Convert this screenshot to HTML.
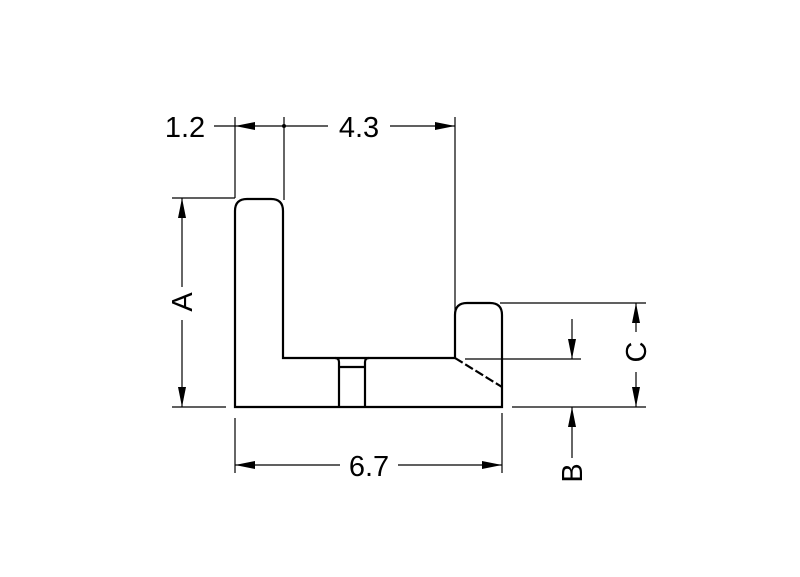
<!DOCTYPE html>
<html><head><style>body{margin:0;background:#fff}svg{display:block}text{font-family:"Liberation Sans",sans-serif;font-size:29px;fill:#000}</style></head>
<body>
<svg width="800" height="577" viewBox="0 0 800 577" xmlns="http://www.w3.org/2000/svg">
<defs>
<marker id="ar" viewBox="0 0 20 8" refX="20" refY="4" markerWidth="20" markerHeight="8" markerUnits="userSpaceOnUse" orient="auto"><path d="M0,0 L20,4 L0,8 Z" fill="#000"/></marker>
</defs>
<g fill="none" stroke="#000" stroke-width="2.2">
<path d="M235,407 L235,211 Q235,199 247,199 L271,199 Q283,199 283,211 L283,358 L455,358 L455,315 Q455,303 467,303 L490,303 Q502,303 502,315 L502,407 Z"/>
<path d="M339,362 L339,407 M365,362 L365,407 M339,367 L365,367 M335,358 Q339,358 339,362 M369,358 Q365,358 365,362"/>
<path d="M455,358 L502,387" stroke-dasharray="9,3"/>
</g>
<circle cx="284" cy="126" r="2" fill="#000"/>
<g fill="none" stroke="#000" stroke-width="1.2">
<line x1="235" y1="117" x2="235" y2="198"/>
<line x1="284" y1="117" x2="284" y2="200"/>
<line x1="455" y1="117" x2="455" y2="358"/>
<line x1="214" y1="126" x2="235" y2="126"/>
<line x1="284" y1="126" x2="235" y2="126" marker-end="url(#ar)"/>
<line x1="284" y1="126" x2="328" y2="126"/>
<line x1="390" y1="126" x2="455" y2="126" marker-end="url(#ar)"/>
<line x1="172" y1="198" x2="235" y2="198"/>
<line x1="172" y1="407" x2="226" y2="407"/>
<line x1="182" y1="287" x2="182" y2="198" marker-end="url(#ar)"/>
<line x1="182" y1="320" x2="182" y2="407" marker-end="url(#ar)"/>
<line x1="235" y1="418" x2="235" y2="473"/>
<line x1="502" y1="413" x2="502" y2="473"/>
<line x1="340" y1="465" x2="235" y2="465" marker-end="url(#ar)"/>
<line x1="398" y1="465" x2="502" y2="465" marker-end="url(#ar)"/>
<line x1="500" y1="303" x2="646" y2="303"/>
<line x1="465" y1="359" x2="581" y2="359"/>
<line x1="512" y1="407" x2="646" y2="407"/>
<line x1="572" y1="319" x2="572" y2="359" marker-end="url(#ar)"/>
<line x1="572" y1="458" x2="572" y2="407" marker-end="url(#ar)"/>
<line x1="636" y1="332" x2="636" y2="303" marker-end="url(#ar)"/>
<line x1="636" y1="372" x2="636" y2="407" marker-end="url(#ar)"/>
</g>
<text x="185" y="137" text-anchor="middle">1.2</text>
<text x="359" y="137" text-anchor="middle">4.3</text>
<text x="369" y="476" text-anchor="middle">6.7</text>
<text transform="translate(192,302) rotate(-90)" text-anchor="middle">A</text>
<text transform="translate(582,473) rotate(-90)" text-anchor="middle">B</text>
<text transform="translate(646,352) rotate(-90)" text-anchor="middle">C</text>
</svg>
</body></html>
